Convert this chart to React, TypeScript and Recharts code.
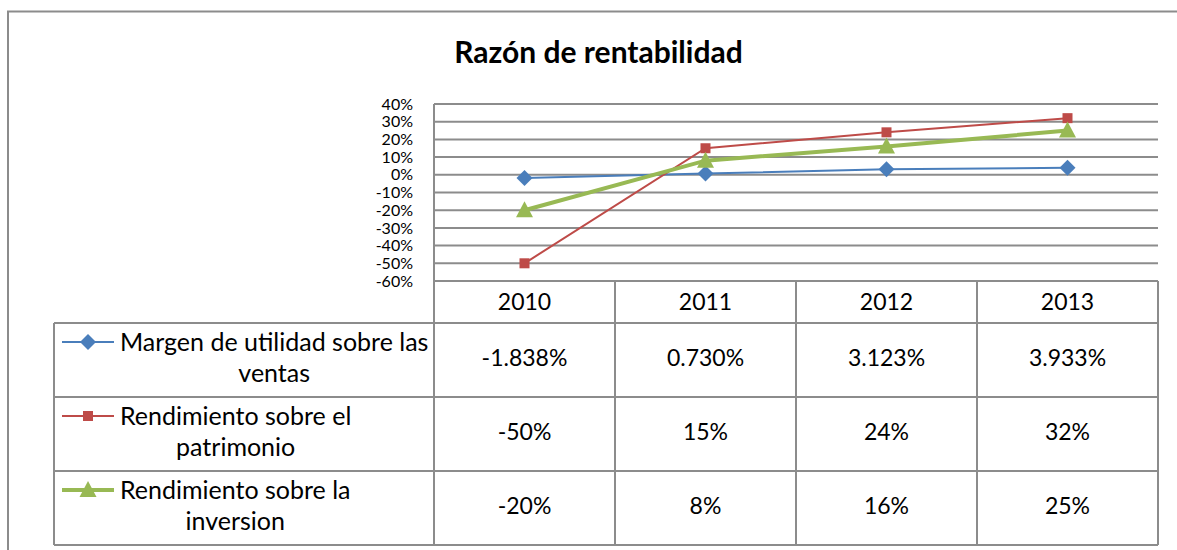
import React from "react";
import { LineChart, Line, XAxis, YAxis, CartesianGrid } from "recharts";

const years = ["2010", "2011", "2012", "2013"];
const margenVentas = [-1.838, 0.73, 3.123, 3.933];
const rendPatrimonio = [-50, 15, 24, 32];
const rendInversion = [-20, 8, 16, 25];
const yTicks = [-60, -50, -40, -30, -20, -10, 0, 10, 20, 30, 40];

type Marker = "diamond" | "square" | "triangle";

const series = [
  { key: "margen", name: "Margen de utilidad sobre las ventas", values: margenVentas, decimals: 3, color: "#4A7EBB", width: 2, marker: "diamond" as Marker },
  { key: "patrimonio", name: "Rendimiento sobre el patrimonio", values: rendPatrimonio, decimals: 0, color: "#BE4B48", width: 2, marker: "square" as Marker },
  { key: "inversion", name: "Rendimiento sobre la inversion", values: rendInversion, decimals: 0, color: "#98B954", width: 4, marker: "triangle" as Marker },
];

const rows = years.map((year, i) => {
  const row: Record<string, string | number> = { year };
  series.forEach((s) => (row[s.key] = s.values[i]));
  return row;
});

// layout
const W = 1177;
const H = 550;
const PLOT_LEFT = 434;
const PLOT_RIGHT = 1158;
const PLOT_TOP = 104;
const AXIS_Y = 281;
const BAND = (PLOT_RIGHT - PLOT_LEFT) / years.length;
const ROW_TOPS = [323, 397, 471];
const TABLE_BOTTOM = 545;
const TABLE_LEFT = 54;
const GRID = "#8C8C8C";
const FONT = "Lato, 'Open Sans', sans-serif";
const LABEL_SIZE = 25;
const NUM_SIZE = 23;

function MarkerShape({ kind, cx, cy, color }: { kind: Marker; cx: number; cy: number; color: string }) {
  if (kind === "diamond") {
    return <path d={`M${cx},${cy - 8}L${cx + 8},${cy}L${cx},${cy + 8}L${cx - 8},${cy}Z`} fill={color} />;
  }
  if (kind === "square") {
    return <rect x={cx - 5} y={cy - 5} width={10} height={10} fill={color} />;
  }
  return <path d={`M${cx},${cy - 9}L${cx + 8.5},${cy + 7}L${cx - 8.5},${cy + 7}Z`} fill={color} />;
}

let measureCtx: CanvasRenderingContext2D | null = null;
function textWidth(s: string) {
  if (!measureCtx) {
    measureCtx = document.createElement("canvas").getContext("2d");
  }
  if (!measureCtx) return s.length * LABEL_SIZE * 0.5;
  measureCtx.font = `${LABEL_SIZE}px Lato`;
  return measureCtx.measureText(s).width;
}

function wrapText(s: string, maxWidth: number) {
  const lines: string[] = [];
  let cur = "";
  s.split(" ").forEach((w) => {
    const next = cur ? `${cur} ${w}` : w;
    if (cur && textWidth(next) > maxWidth) {
      lines.push(cur);
      cur = w;
    } else {
      cur = next;
    }
  });
  if (cur) lines.push(cur);
  return lines;
}

function LegendColumn() {
  const textLeft = 120;
  return (
    <g>
      <line x1={TABLE_LEFT} y1={ROW_TOPS[0]} x2={TABLE_LEFT} y2={TABLE_BOTTOM} stroke={GRID} strokeWidth={2} />
      {ROW_TOPS.concat(TABLE_BOTTOM).map((t) => (
        <line key={`lh-${t}`} x1={TABLE_LEFT} y1={t} x2={PLOT_LEFT} y2={t} stroke={GRID} strokeWidth={2} />
      ))}
      {series.map((s, r) => {
        const top = ROW_TOPS[r];
        const lines = wrapText(s.name, 312);
        const block = Math.max(...lines.map(textWidth));
        const cx = textLeft + block / 2;
        return (
          <g key={s.key}>
            <line x1={62} y1={top + 19} x2={114} y2={top + 19} stroke={s.color} strokeWidth={s.width} />
            <MarkerShape kind={s.marker} cx={88} cy={top + 19} color={s.color} />
            {lines.map((ln, k) => (
              <text key={k} x={cx} y={top + 28 + k * 31} textAnchor="middle" fontSize={LABEL_SIZE} fontFamily={FONT} fill="#000">
                {ln}
              </text>
            ))}
          </g>
        );
      })}
    </g>
  );
}

function TableTick(props: any) {
  const { x, payload, index } = props;
  const i = index ?? payload.index;
  const left = x - BAND / 2;
  const right = x + BAND / 2;
  return (
    <g>
      <line x1={right} y1={AXIS_Y} x2={right} y2={TABLE_BOTTOM} stroke={GRID} strokeWidth={2} />
      {i === 0 && <line x1={left} y1={AXIS_Y} x2={left} y2={TABLE_BOTTOM} stroke={GRID} strokeWidth={2} />}
      {ROW_TOPS.concat(TABLE_BOTTOM).map((t) => (
        <line key={t} x1={left} y1={t} x2={right} y2={t} stroke={GRID} strokeWidth={2} />
      ))}
      <text x={x} y={310} textAnchor="middle" fontSize={NUM_SIZE} fontFamily={FONT} fill="#000">
        {payload.value}
      </text>
      {series.map((s, r) => (
        <text key={s.key} x={x} y={ROW_TOPS[r] + 43} textAnchor="middle" fontSize={NUM_SIZE} fontFamily={FONT} fill="#000">
          {`${s.values[i].toFixed(s.decimals)}%`}
        </text>
      ))}
      {i === 0 && <LegendColumn />}
    </g>
  );
}

export default function App() {
  return (
    <div style={{ position: "absolute", left: 0, top: 0, width: W, height: H, overflow: "hidden", background: "#fff", fontFamily: FONT }}>
      <svg width={W} height={H} style={{ position: "absolute", left: 0, top: 0 }}>
        <polyline points={`8,${H} 8,11.5 ${W},11.5`} fill="none" stroke={GRID} strokeWidth={2} />
      </svg>
      <div style={{ position: "absolute", left: 10, top: 36, width: W, textAlign: "center", fontSize: 30, lineHeight: "30px", fontWeight: 700, color: "#000" }}>
        Razón de rentabilidad
      </div>
      <LineChart
        width={W}
        height={H}
        data={rows}
        margin={{ top: PLOT_TOP, right: W - PLOT_RIGHT, left: PLOT_LEFT - 60, bottom: 0 }}
        style={{ position: "absolute", left: 0, top: 0 }}
      >
        <CartesianGrid vertical={false} stroke={GRID} strokeWidth={2} />
        <XAxis
          dataKey="year"
          interval={0}
          padding={{ left: BAND / 2, right: BAND / 2 }}
          height={H - AXIS_Y}
          axisLine={{ stroke: GRID, strokeWidth: 2 }}
          tickLine={false}
          tick={<TableTick />}
        />
        <YAxis
          type="number"
          domain={[-60, 40]}
          ticks={yTicks}
          interval={0}
          width={60}
          tickMargin={15}
          tickLine={false}
          axisLine={{ stroke: GRID, strokeWidth: 2 }}
          tickFormatter={(v: number) => `${v}%`}
          tick={{ fontSize: 16, fontFamily: FONT, fill: "#000" }}
        />
        {series.map((s) => (
          <Line
            key={s.key}
            type="linear"
            dataKey={s.key}
            name={s.name}
            stroke={s.color}
            strokeWidth={s.width}
            isAnimationActive={false}
            activeDot={false}
            dot={(p: any) => <MarkerShape key={`${s.key}-${p.index}`} kind={s.marker} cx={p.cx} cy={p.cy} color={s.color} />}
          />
        ))}
      </LineChart>
    </div>
  );
}
